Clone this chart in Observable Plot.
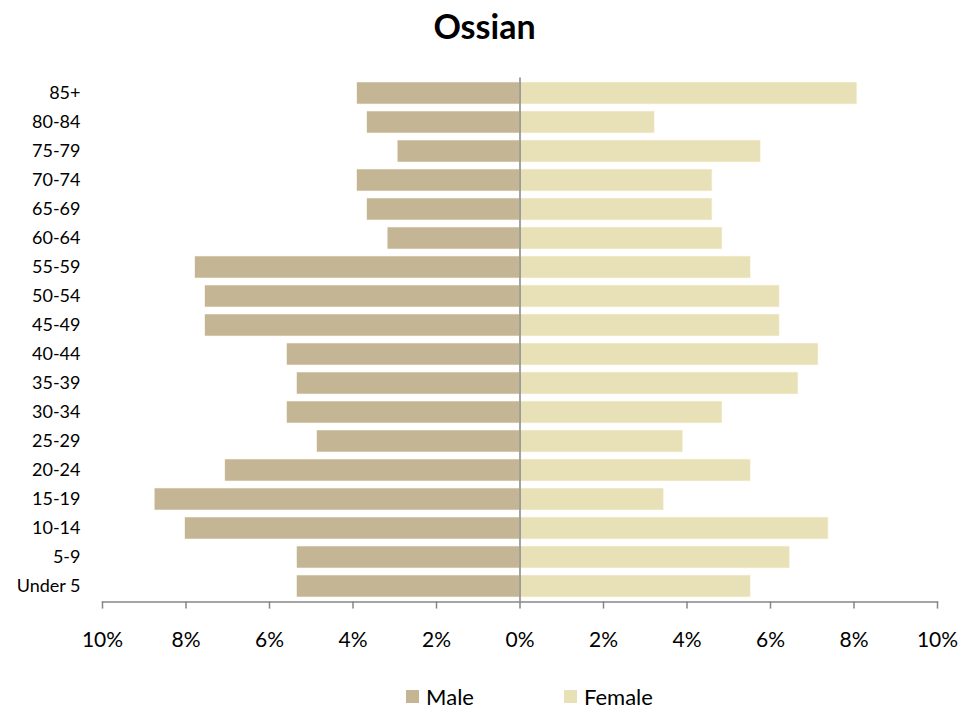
<!DOCTYPE html>
<html>
<head>
<meta charset="utf-8">
<script src="https://cdn.jsdelivr.net/npm/d3@7"></script>
<script src="https://cdn.jsdelivr.net/npm/@observablehq/plot@0.6"></script>
<style>
  html, body { margin: 0; padding: 0; background: #fff; }
  body { width: 979px; height: 713px; overflow: hidden; font-family: Lato, "Open Sans", sans-serif; }
  #title { height: 50px; line-height: 52px; text-align: center; font-weight: bold; font-size: 34px; color: #000; padding-right: 10px; box-sizing: border-box; }
  #legend { display: flex; justify-content: center; align-items: center; height: 53px; padding-top: 20px; box-sizing: border-box; font-size: 22px; color: #000; padding-left: 80px; }
  .item { display: flex; align-items: center; margin: 0 45px; }
  .sw { width: 13px; height: 13px; margin-right: 7px; display: inline-block; }
</style>
</head>
<body>
<div id="title">Ossian</div>
<div id="chart"></div>
<div id="legend"></div>
<script>
const ageGroups = ["Under 5","5-9","10-14","15-19","20-24","25-29","30-34","35-39","40-44","45-49","50-54","55-59","60-64","65-69","70-74","75-79","80-84","85+"];
const malePct   = [5.34,5.34,8.02,8.75,7.06,4.86,5.58,5.34,5.58,7.54,7.54,7.78,3.17,3.66,3.90,2.93,3.66,3.90];
const femalePct = [5.53,6.47,7.39,3.45,5.53,3.91,4.85,6.67,7.15,6.22,6.22,5.53,4.85,4.61,4.61,5.77,3.23,8.08];
const sexes = ["Male","Female"];
const sexColors = ["#C4B695","#E8E1B7"];
const xTicks = [-10,-8,-6,-4,-2,0,2,4,6,8,10];

const rows = [];
ageGroups.forEach((a, i) => {
  rows.push({age: a, sex: "Male", value: -malePct[i]});
  rows.push({age: a, sex: "Female", value: femalePct[i]});
});

const chart = Plot.plot({
  width: 979,
  height: 610,
  marginLeft: 102,
  marginRight: 42,
  marginTop: 27.5,
  marginBottom: 58.4,
  style: {fontFamily: "Lato, 'Open Sans', sans-serif", fontSize: "18px", color: "#000", background: "#fff"},
  x: {domain: [-10, 10]},
  y: {domain: ageGroups.slice().reverse(), paddingInner: 0.25, paddingOuter: 0.125, align: 0.5},
  color: {domain: sexes, range: sexColors},
  marks: [
    Plot.barX(rows, {x: "value", y: "age", fill: "sex", stroke: "#fbf8ee", strokeWidth: 0.6}),
    Plot.ruleX([0], {stroke: "#868686", strokeWidth: 1.5}),
    Plot.frame({anchor: "bottom", stroke: "#868686", strokeWidth: 1.5}),
    Plot.axisX({ticks: xTicks, tickSize: 7, tickPadding: 23, stroke: "#868686", strokeWidth: 1.5, tickFormat: d => Math.abs(d) + "%", label: null, fontSize: 21}),
    Plot.axisY({tickSize: 0, tickPadding: 22, label: null, fontSize: 18})
  ]
});
document.getElementById("chart").appendChild(chart);

const legend = document.getElementById("legend");
sexes.forEach((s, i) => {
  const item = document.createElement("div");
  item.className = "item";
  const sw = document.createElement("span");
  sw.className = "sw";
  sw.style.background = sexColors[i];
  const t = document.createElement("span");
  t.textContent = s;
  item.appendChild(sw);
  item.appendChild(t);
  legend.appendChild(item);
});
</script>
</body>
</html>
